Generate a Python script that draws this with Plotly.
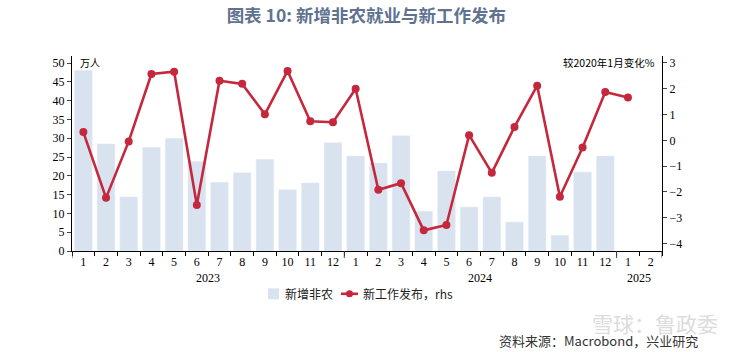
import plotly.graph_objects as go

months = ["2023-01","2023-02","2023-03","2023-04","2023-05","2023-06","2023-07","2023-08","2023-09","2023-10","2023-11","2023-12",
          "2024-01","2024-02","2024-03","2024-04","2024-05","2024-06","2024-07","2024-08","2024-09","2024-10","2024-11","2024-12",
          "2025-01","2025-02"]
month_labels = [m.split("-")[1].lstrip("0") for m in months]
years = ["2023", "2024", "2025"]

nfp = [48.1, 28.5, 14.4, 27.6, 30.0, 23.8, 18.3, 20.8, 24.4, 16.3, 18.1, 28.8,
       25.3, 23.4, 30.7, 10.6, 21.3, 11.7, 14.4, 7.7, 25.3, 4.2, 21.0, 25.3]
postings = [0.32, -2.23, -0.04, 2.57, 2.66, -2.51, 2.31, 2.19, 1.01, 2.69, 0.74, 0.70,
            2.00, -1.92, -1.66, -3.49, -3.28, 0.20, -1.26, 0.52, 2.12, -2.19, -0.28, 1.87,
            1.66]

bar_color = "#d9e3ef"
line_color = "#c5283d"
xi = list(range(len(months)))
serif = "Liberation Serif, Times New Roman, serif"
cjk = "Noto Sans CJK SC"

fig = go.Figure()
fig.add_trace(go.Bar(x=xi[:len(nfp)], y=nfp, name="新增非农", marker_color=bar_color,
                     width=0.78, yaxis="y"))
fig.add_trace(go.Scatter(x=xi[:len(postings)], y=postings, name="新工作发布，rhs", mode="lines+markers",
                         line=dict(color=line_color, width=2.6), marker=dict(size=8, color=line_color),
                         yaxis="y2"))

fig.update_layout(
    width=737, height=352,
    margin=dict(l=72, r=75, t=56, b=101),
    paper_bgcolor="white", plot_bgcolor="white",
    showlegend=False,
    title=dict(text="<b>图表 10: 新增非农就业与新工作发布</b>", x=0.497, xanchor="center", y=0.955, yanchor="middle",
               font=dict(family=cjk, size=17.5, color="#5f7390")),
    xaxis=dict(range=[-0.5, len(months) - 0.5], tickmode="array", tickvals=xi, ticktext=month_labels,
               ticks="", showline=True, linecolor="black", linewidth=1,
               tickfont=dict(family=serif, size=12, color="black"), showgrid=False, zeroline=False,
               minor=dict(tickmode="array", tickvals=[i - 0.5 for i in xi] + [len(months) - 0.5],
                          ticks="outside", ticklen=4, tickcolor="black", showgrid=False)),
    yaxis=dict(range=[0, 51.9], tickvals=list(range(0, 51, 5)), ticks="outside", ticklen=4,
               showline=True, linecolor="black", linewidth=1, showgrid=False, zeroline=False,
               tickfont=dict(family=serif, size=12, color="black")),
    yaxis2=dict(range=[-4.29, 3.27], tickvals=list(range(-4, 4)), overlaying="y", side="right",
                ticks="outside", ticklen=4, showline=True, linecolor="black", linewidth=1,
                showgrid=False, zeroline=False, tickfont=dict(family=serif, size=12, color="black")),
    bargap=0.2,
)

# year boundary dividers
for b in [-0.5, 11.5, 23.5, len(months) - 0.5]:
    fig.add_shape(type="line", xref="x", yref="paper", x0=b, x1=b, y0=0, y1=-0.036,
                  line=dict(color="#444", width=1))

# year labels centred under their months
for yr in years:
    idx = [i for i, m in enumerate(months) if m.startswith(yr)]
    fig.add_annotation(x=(idx[0] + idx[-1]) / 2, xref="x", y=-0.138, yref="paper", yanchor="middle",
                       text=yr, showarrow=False, font=dict(family=serif, size=12, color="black"))

# compact legend
leg_y = -0.2195
fig.add_shape(type="rect", xref="paper", yref="paper", x0=0.3322, x1=0.3508, y0=leg_y - 0.028, y1=leg_y + 0.028,
              fillcolor=bar_color, line=dict(width=0))
fig.add_annotation(x=0.3576, xref="paper", y=leg_y, yref="paper", xanchor="left", yanchor="middle",
                   text="新增非农", showarrow=False, font=dict(family=cjk, size=12, color="#222"))
fig.add_shape(type="line", xref="paper", yref="paper", x0=0.4559, x1=0.4847, y0=leg_y, y1=leg_y,
              line=dict(color=line_color, width=2.6))
fig.add_shape(type="circle", xref="paper", yref="paper", x0=0.4644, x1=0.4763, y0=leg_y - 0.018, y1=leg_y + 0.018,
              fillcolor=line_color, line=dict(width=0))
fig.add_annotation(x=0.4898, xref="paper", y=leg_y, yref="paper", xanchor="left", yanchor="middle",
                   text="新工作发布，rhs", showarrow=False, font=dict(family=cjk, size=12, color="#222"))

fig.add_annotation(x=0.01, xref="paper", y=0.965, yref="paper", text="万人", showarrow=False,
                   xanchor="left", yanchor="middle", font=dict(family=cjk, size=10, color="black"))
fig.add_annotation(x=0.992, xref="paper", y=0.965, yref="paper", text="较2020年1月变化%", showarrow=False,
                   xanchor="right", yanchor="middle", font=dict(family=cjk, size=10.5, color="black"))
# watermark
fig.add_annotation(x=1.098, xref="paper", xanchor="right", y=-0.37, yref="paper", yanchor="middle",
                   text="雪球：鲁政委", showarrow=False,
                   font=dict(family=cjk, size=21, color="#dcdcdc"))
fig.add_annotation(x=1.064, xref="paper", xanchor="right", y=-0.458, yref="paper", yanchor="middle",
                   text="资料来源：Macrobond，兴业研究", showarrow=False,
                   font=dict(family=cjk, size=13, color="#333"))

fig.write_html("out.html")
